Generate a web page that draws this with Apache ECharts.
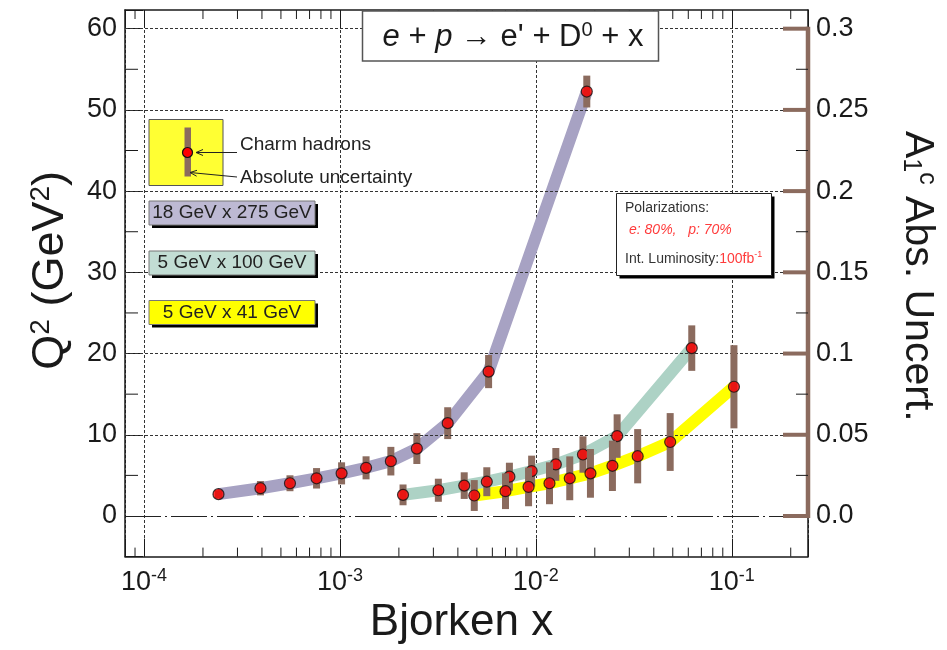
<!DOCTYPE html>
<html>
<head>
<meta charset="utf-8">
<script src="https://cdn.jsdelivr.net/npm/echarts@6/dist/echarts.min.js"></script>
<style>
  html, body { margin: 0; padding: 0; background: #fff; }
  #chart { width: 947px; height: 650px; }
</style>
</head>
<body>
<div id="chart"></div>
<script>
// Projected charm-hadron (D0) A1 uncertainties vs Bjorken x and Q^2
// for three EIC beam-energy configurations.

const beamLabels = ['18 GeV x 275 GeV', '5 GeV x 100 GeV', '5 GeV x 41 GeV'];

// 18 GeV x 275 GeV
const x18x275   = [2.40e-4, 3.93e-4, 5.56e-4, 7.60e-4, 1.02e-3, 1.36e-3, 1.82e-3, 2.47e-3, 3.55e-3, 5.74e-3, 1.82e-2];
const q2_18x275 = [2.69, 3.42, 4.03, 4.64, 5.25, 5.93, 6.75, 8.30, 11.43, 17.78, 52.26];
const unc18x275 = [0.0024, 0.0044, 0.0049, 0.0063, 0.0068, 0.0071, 0.0088, 0.0095, 0.0098, 0.0102, 0.0098];

// 5 GeV x 100 GeV
const x5x100   = [2.10e-3, 3.18e-3, 4.31e-3, 5.62e-3, 7.33e-3, 9.52e-3, 1.265e-2, 1.74e-2, 2.60e-2, 6.25e-2];
const q2_5x100 = [2.60, 3.17, 3.74, 4.22, 4.84, 5.53, 6.35, 7.57, 9.84, 20.67];
const unc5x100 = [0.0064, 0.0071, 0.0082, 0.0089, 0.0086, 0.0095, 0.0101, 0.0112, 0.0134, 0.0140];

// 5 GeV x 41 GeV
const x5x41   = [4.85e-3, 7.00e-3, 9.18e-3, 1.174e-2, 1.49e-2, 1.90e-2, 2.46e-2, 3.31e-2, 4.85e-2, 0.1026];
const q2_5x41 = [2.52, 3.05, 3.58, 4.03, 4.64, 5.25, 6.18, 7.36, 9.11, 15.91];
const unc5x41 = [0.0095, 0.0110, 0.0119, 0.0129, 0.0135, 0.0150, 0.0155, 0.0167, 0.0178, 0.0256];

// Axis ticks
const q2Ticks = [0, 10, 20, 30, 40, 50, 60];
const q2MinorTicks = [5, 15, 25, 35, 45, 55];
const asymTicks = [0, 0.05, 0.1, 0.15, 0.2, 0.25, 0.3];
const asymTickLabels = ['0.0', '0.05', '0.1', '0.15', '0.2', '0.25', '0.3'];
const asymMinorTicks = [0.025, 0.075, 0.125, 0.175, 0.225, 0.275];
const xMinorTicks = [9e-5,
  2e-4, 3e-4, 4e-4, 5e-4, 6e-4, 7e-4, 8e-4, 9e-4,
  2e-3, 3e-3, 4e-3, 5e-3, 6e-3, 7e-3, 8e-3, 9e-3,
  2e-2, 3e-2, 4e-2, 5e-2, 6e-2, 7e-2, 8e-2, 9e-2,
  2e-1];

// Axis ranges
const X_MIN = 8e-5, X_MAX = 0.245;
const Q2_MIN = -5, Q2_MAX = 62.3;
// Q^2 units per unit of A1 uncertainty (left and right axes share the frame)
const Q2_PER_ASYM = q2Ticks[q2Ticks.length - 1] / asymTicks[asymTicks.length - 1];

const FONT = 'Liberation Sans, Arial, Helvetica, sans-serif';
const INK = '#1a1a1a';
const BROWN = '#8b6b5e';

const configs = [
  { name: beamLabels[0], x: x18x275, q2: q2_18x275, unc: unc18x275, band: '#a7a2c3', box: '#bdb9d3' },
  { name: beamLabels[1], x: x5x100,  q2: q2_5x100,  unc: unc5x100,  band: '#add2c5', box: '#c2ddd4' },
  { name: beamLabels[2], x: x5x41,   q2: q2_5x41,   unc: unc5x41,   band: '#ffff00', box: '#ffff00' }
];

const chart = echarts.init(document.getElementById('chart'), null, { renderer: 'canvas' });

const series = [];

// Horizontal grid lines; the Q^2 = 0 line uses a long dash-dot pattern
series.push({
  type: 'line', data: [], z: 1, silent: true,
  markLine: {
    silent: true, symbol: ['none', 'none'], animation: false,
    label: { show: false },
    data: q2Ticks.map(v => ({
      yAxis: v,
      lineStyle: v === 0
        ? { color: '#222', width: 1.2, type: [36, 4, 2, 4] }
        : { color: '#333', width: 1, type: [3, 2] }
    }))
  }
});

// Kinematic bands
configs.forEach(c => {
  series.push({
    type: 'line', name: c.name, z: 3, silent: true,
    data: c.x.map((x, k) => [x, c.q2[k]]),
    showSymbol: false, symbol: 'none',
    lineStyle: { color: c.band, width: 12, cap: 'butt', join: 'round' }
  });
});

// Uncertainty bars and points
configs.forEach((c, i) => {
  series.push({
    type: 'custom', z: 4 + 2 * i, silent: true,
    data: c.x.map((x, k) => [x, c.q2[k], c.unc[k]]),
    renderItem: (params, api) => {
      const x = api.value(0), q = api.value(1), u = api.value(2) * Q2_PER_ASYM;
      const top = api.coord([x, q + u]);
      const bot = api.coord([x, q - u]);
      return {
        type: 'rect',
        shape: { x: top[0] - 3.5, y: top[1], width: 7, height: bot[1] - top[1] },
        style: { fill: BROWN }
      };
    }
  });
  series.push({
    type: 'scatter', z: 5 + 2 * i, silent: true,
    data: c.x.map((x, k) => [x, c.q2[k]]),
    symbol: 'circle', symbolSize: 11,
    itemStyle: { color: '#ff0000', borderColor: '#111', borderWidth: 1.2 }
  });
});

// Minor ticks on the bottom and top frame
series.push({
  type: 'custom', z: 20, silent: true, clip: false,
  data: xMinorTicks.map(v => [v, 0]),
  renderItem: (params, api) => {
    const cs = params.coordSys;
    const x = api.coord([api.value(0), 0])[0];
    const yb = cs.y + cs.height, yt = cs.y;
    return {
      type: 'group', children: [
        { type: 'line', shape: { x1: x, y1: yb, x2: x, y2: yb - 9 }, style: { stroke: INK, lineWidth: 1 } },
        { type: 'line', shape: { x1: x, y1: yt, x2: x, y2: yt + 9 }, style: { stroke: INK, lineWidth: 1 } }
      ]
    };
  }
});

// Minor ticks on the left frame
series.push({
  type: 'custom', z: 20, silent: true, clip: false,
  data: q2MinorTicks.map(v => [X_MIN, v]),
  renderItem: (params, api) => {
    const cs = params.coordSys;
    const y = api.coord([api.value(0), api.value(1)])[1];
    return { type: 'line', shape: { x1: cs.x, y1: y, x2: cs.x + 13, y2: y }, style: { stroke: INK, lineWidth: 1 } };
  }
});

// Right-hand A1 uncertainty axis: brown spine, brown major ticks, black minor ticks
series.push({
  type: 'custom', yAxisIndex: 1, z: 21, silent: true, clip: false,
  data: [[X_MIN, asymTicks[0], asymTicks[asymTicks.length - 1]]],
  renderItem: (params, api) => {
    const cs = params.coordSys;
    const xr = cs.x + cs.width;
    const y0 = api.coord([api.value(0), api.value(1)])[1];
    const y1 = api.coord([api.value(0), api.value(2)])[1];
    return { type: 'line', shape: { x1: xr, y1: y0 + 2, x2: xr, y2: y1 - 2 }, style: { stroke: BROWN, lineWidth: 4.5 } };
  }
});
series.push({
  type: 'custom', yAxisIndex: 1, z: 21, silent: true, clip: false,
  data: asymTicks.map(v => [X_MIN, v]),
  renderItem: (params, api) => {
    const cs = params.coordSys;
    const xr = cs.x + cs.width;
    const y = api.coord([api.value(0), api.value(1)])[1];
    return { type: 'line', shape: { x1: xr, y1: y, x2: xr - 25, y2: y }, style: { stroke: BROWN, lineWidth: 4 } };
  }
});
series.push({
  type: 'custom', yAxisIndex: 1, z: 21, silent: true, clip: false,
  data: asymMinorTicks.map(v => [X_MIN, v]),
  renderItem: (params, api) => {
    const cs = params.coordSys;
    const xr = cs.x + cs.width;
    const y = api.coord([api.value(0), api.value(1)])[1];
    return { type: 'line', shape: { x1: xr, y1: y, x2: xr - 12, y2: y }, style: { stroke: INK, lineWidth: 1 } };
  }
});

const isDecade = v => { const e = Math.log10(v); return Math.abs(e - Math.round(e)) < 1e-6; };
const frameLine = { show: true, onZero: false, lineStyle: { color: INK, width: 1.5 } };

// Annotation boxes
const graphics = [];

// Title box
graphics.push({
  type: 'rect', z: 100, shape: { x: 362.5, y: 11, width: 296, height: 50 },
  style: { fill: '#fff', stroke: '#555', lineWidth: 1.5 }
});
graphics.push({
  type: 'text', z: 101, x: 513, y: 37,
  style: {
    text: '{i|e} + {i|p} \u2192 e\' + D{s|0} + x',
    fontFamily: FONT, fontSize: 31, fill: INK, align: 'center', verticalAlign: 'middle',
    rich: {
      i: { fontFamily: FONT, fontSize: 31, fontStyle: 'italic', fill: INK },
      s: { fontFamily: FONT, fontSize: 20, fill: INK, padding: [0, 0, 14, 0] }
    }
  }
});

// Marker key
graphics.push({
  type: 'rect', z: 100, shape: { x: 149, y: 119.5, width: 74, height: 66 },
  style: { fill: '#ffff33', stroke: '#555', lineWidth: 1 }
});
graphics.push({
  type: 'rect', z: 101, shape: { x: 184.5, y: 127.5, width: 6.5, height: 49 },
  style: { fill: BROWN }
});
graphics.push({
  type: 'circle', z: 102, shape: { cx: 187.5, cy: 152.5, r: 5 },
  style: { fill: '#ff0000', stroke: '#111', lineWidth: 1.2 }
});
graphics.push({
  type: 'line', z: 102, shape: { x1: 237, y1: 152.5, x2: 196, y2: 152.5 },
  style: { stroke: '#222', lineWidth: 1 }
});
graphics.push({
  type: 'polyline', z: 102, shape: { points: [[203, 149.5], [196, 152.5], [203, 155.5]] },
  style: { stroke: '#222', lineWidth: 1, fill: null }
});
graphics.push({
  type: 'line', z: 102, shape: { x1: 237, y1: 177, x2: 190, y2: 172.5 },
  style: { stroke: '#222', lineWidth: 1 }
});
graphics.push({
  type: 'polyline', z: 102, shape: { points: [[197, 170.3], [190, 172.5], [196.6, 176.2]] },
  style: { stroke: '#222', lineWidth: 1, fill: null }
});
graphics.push({
  type: 'text', z: 102, x: 240, y: 145,
  style: { text: 'Charm hadrons', fontFamily: FONT, fontSize: 19, fill: '#222', verticalAlign: 'middle' }
});
graphics.push({
  type: 'text', z: 102, x: 240, y: 178,
  style: { text: 'Absolute uncertainty', fontFamily: FONT, fontSize: 19, fill: '#222', verticalAlign: 'middle' }
});

// Beam configuration key
const keyTops = [201, 251, 300.5];
configs.forEach((c, i) => {
  const y = keyTops[i];
  graphics.push({
    type: 'rect', z: 100, shape: { x: 152, y: y + 3, width: 166, height: 24 },
    style: { fill: '#000' }
  });
  graphics.push({
    type: 'rect', z: 101, shape: { x: 149, y: y, width: 166, height: 24 },
    style: { fill: c.box, stroke: '#777', lineWidth: 1 }
  });
  graphics.push({
    type: 'text', z: 102, x: 232, y: y + 12,
    style: { text: c.name, fontFamily: FONT, fontSize: 19, fill: '#222', align: 'center', verticalAlign: 'middle' }
  });
});

// Run conditions box
graphics.push({
  type: 'rect', z: 100, shape: { x: 619.5, y: 196.5, width: 155, height: 82 },
  style: { fill: '#000' }
});
graphics.push({
  type: 'rect', z: 101, shape: { x: 616.5, y: 193.5, width: 155, height: 82 },
  style: { fill: '#fff', stroke: '#222', lineWidth: 1 }
});
graphics.push({
  type: 'text', z: 102, x: 625, y: 208,
  style: { text: 'Polarizations:', fontFamily: FONT, fontSize: 14, fill: '#333', verticalAlign: 'middle' }
});
graphics.push({
  type: 'text', z: 102, x: 629, y: 230,
  style: { text: 'e: 80%,   p: 70%', fontFamily: FONT, fontSize: 14, fontStyle: 'italic', fill: '#ff3b3b', verticalAlign: 'middle' }
});
graphics.push({
  type: 'text', z: 102, x: 625, y: 259,
  style: {
    text: '{d|Int. Luminosity:}{r|100fb}{s|-1}',
    fontFamily: FONT, fontSize: 14, verticalAlign: 'middle',
    rich: {
      d: { fontFamily: FONT, fontSize: 14, fill: '#333' },
      r: { fontFamily: FONT, fontSize: 14, fill: '#ff3b3b' },
      s: { fontFamily: FONT, fontSize: 9, fill: '#ff3b3b', padding: [0, 0, 8, 0] }
    }
  }
});

const option = {
  animation: false,
  backgroundColor: '#fff',
  textStyle: { fontFamily: FONT },
  grid: { left: 125, right: 135, top: 10, bottom: 89, containLabel: false },
  xAxis: [
    {
      type: 'log', logBase: 10, min: X_MIN, max: X_MAX, position: 'bottom',
      axisLine: frameLine,
      axisTick: { show: true, inside: true, length: 18, lineStyle: { color: INK, width: 1 } },
      minorTick: { show: false },
      axisLabel: {
        margin: 10, fontSize: 27, color: INK, fontFamily: FONT,
        formatter: v => isDecade(v) ? '10{e|' + Math.round(Math.log10(v)) + '}' : '',
        rich: { e: { fontSize: 18, color: INK, fontFamily: FONT, padding: [0, 0, 14, 0] } }
      },
      splitLine: { show: true, lineStyle: { color: '#333', width: 1, type: [3, 2] } },
      name: 'Bjorken x', nameLocation: 'middle', nameGap: 30,
      nameTextStyle: { fontSize: 44, color: INK, fontFamily: FONT, padding: [0, 10, 0, 0] }
    },
    {
      type: 'log', logBase: 10, min: X_MIN, max: X_MAX, position: 'top',
      axisLine: frameLine,
      axisTick: { show: true, inside: true, length: 18, lineStyle: { color: INK, width: 1 } },
      axisLabel: { show: false },
      splitLine: { show: false }
    }
  ],
  yAxis: [
    {
      type: 'value', min: Q2_MIN, max: Q2_MAX, position: 'left',
      axisLine: frameLine,
      axisTick: { show: true, inside: true, length: 18, lineStyle: { color: INK, width: 1 } },
      axisLabel: {
        margin: 8, fontSize: 27, color: INK, fontFamily: FONT,
        formatter: v => q2Ticks.indexOf(v) >= 0 ? String(v) : ''
      },
      splitLine: { show: false },
      name: 'Q{s|2} (GeV{s|2})', nameLocation: 'middle', nameGap: 50, nameRotate: 90,
      nameTextStyle: {
        fontSize: 45, color: INK, fontFamily: FONT, padding: [0, 0, 0, 26],
        rich: { s: { fontSize: 28, color: INK, fontFamily: FONT, padding: [0, 0, 20, 0] } }
      }
    },
    {
      type: 'value', min: Q2_MIN / Q2_PER_ASYM, max: Q2_MAX / Q2_PER_ASYM, position: 'right',
      axisLine: frameLine,
      axisTick: { show: false },
      axisLabel: {
        margin: 8, fontSize: 27, color: INK, fontFamily: FONT,
        formatter: v => {
          const k = asymTicks.findIndex(t => Math.abs(t - v) < 1e-9);
          return k >= 0 ? asymTickLabels[k] : '';
        }
      },
      splitLine: { show: false },
      name: 'A{sub|1}{sup|c} Abs. Uncert.', nameLocation: 'middle', nameGap: 88, nameRotate: -90,
      nameTextStyle: {
        fontSize: 41, color: INK, fontFamily: FONT, padding: [0, 14, 0, 0],
        rich: {
          sub: { fontSize: 25, color: INK, fontFamily: FONT, padding: [14, 0, 0, 0] },
          sup: { fontSize: 25, color: INK, fontFamily: FONT, padding: [0, 0, 18, 0] }
        }
      }
    }
  ],
  series: series,
  graphic: { elements: graphics }
};

chart.setOption(option);
</script>
</body>
</html>
